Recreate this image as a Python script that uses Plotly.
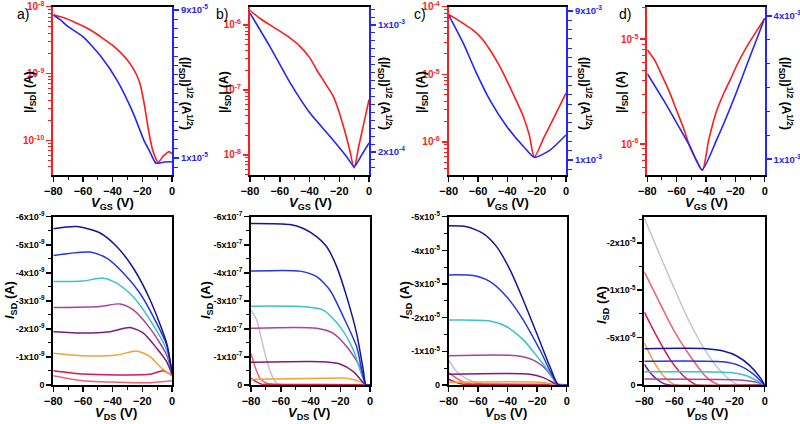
import plotly.graph_objects as go

# ---------------- data ----------------
# top row: transfer curves (red = |I_SD| log scale, blue = sqrt(|I_SD|) linear scale)
TA_V_RED = [-80, -75, -70, -65, -60, -55, -50, -45, -40, -35, -30, -26, -22, -19, -17, -15, -13, -11,
            -9.5, -8, -6, -4, -2, 0]
TA_I_RED = [7.59e-9, 7.08e-9, 6.46e-9, 5.75e-9, 5.13e-9, 4.47e-9, 3.80e-9, 3.16e-9, 2.63e-9, 2.09e-9,
            1.58e-9, 1.17e-9, 7.59e-10, 3.80e-10, 2.04e-10, 1.12e-10, 7.08e-11, 5.37e-11, 4.68e-11,
            5.01e-11, 5.75e-11, 6.31e-11, 6.76e-11, 6.31e-11]
TA_V_BLUE = [-80, -75, -70, -60, -48, -37, -26, -19, -15, -11, -9, -5, -2, 0]
TA_S_BLUE = [8.73e-5, 8.45e-5, 8.1e-5, 7.56e-5, 6.5e-5, 5.2e-5, 3.4e-5, 1.97e-5, 1.35e-5,
             0.73e-5, 0.72e-5, 0.78e-5, 0.8e-5, 0.78e-5]

TB_V_RED = [-80, -72, -64.5, -55, -46.4, -40, -35.2, -30, -24, -20, -16, -13, -10, -7, -4, 0]
TB_I_RED = [1.66e-6, 1.20e-6, 9.33e-7, 6.76e-7, 4.68e-7, 3.16e-7, 2.04e-7, 1.32e-7, 7.94e-8, 4.47e-8,
            2.19e-8, 1.20e-8, 6.31e-9, 1.32e-8, 2.69e-8, 7.08e-8]
TB_V_BLUE = [-80, -66.6, -53, -39.7, -26, -15, -10, -5, 0]
TB_S_BLUE = [1.074e-3, 8.64e-4, 6.35e-4, 4.45e-4, 2.96e-4, 1.7e-4, 1.08e-4, 1.8e-4, 2.57e-4]

TC_V_RED = [-80, -75, -70, -63.2, -57, -51.8, -46, -40.4, -35, -29, -25, -21.6, -15, -8, 0]
TC_I_RED = [7.59e-5, 6.61e-5, 5.62e-5, 4.47e-5, 3.31e-5, 2.29e-5, 1.41e-5, 8.13e-6, 4.57e-6, 2.34e-6,
            1.26e-6, 6.03e-7, 1.17e-6, 2.34e-6, 5.25e-6]
TC_V_BLUE = [-80, -70, -61, -51.8, -40.4, -29, -21.6, -10.9, 0]
TC_S_BLUE = [8.78e-3, 7.26e-3, 5.65e-3, 4.2e-3, 2.8e-3, 1.72e-3, 1.14e-3, 1.53e-3, 2.34e-3]

TD_V_RED = [-80, -75, -70.2, -65, -60, -55, -50.9, -46, -42.5, -38, -32.7, -28, -23.6, -18, -12.2, -6, 0]
TD_I_RED = [7.94e-6, 6.31e-6, 4.57e-6, 3.16e-6, 2.09e-6, 1.38e-6, 9.33e-7, 6.76e-7, 5.62e-7, 1.12e-6,
            2.09e-6, 3.02e-6, 4.07e-6, 6.03e-6, 8.51e-6, 1.17e-5, 1.58e-5]
TD_V_BLUE = [-80, -69, -60, -50.9, -42.7, -32.7, -21.3, -10, 0]
TD_S_BLUE = [2.79e-3, 2.24e-3, 1.76e-3, 1.27e-3, 0.78e-3, 1.41e-3, 2.24e-3, 3.15e-3, 3.95e-3]

# bottom row: output curves (I_SD in units of the panel scale)
OA_SCALE = 1e-9
OA_V = [[-80, -64.3, -48.5, -37.3, -26.1, -14.8, -3.6, 0],
        [-80, -55.3, -44.0, -32.8, -21.6, -10.3, -3.6, 0],
        [-80, -59.8, -46.3, -37.3, -26.1, -14.8, -3.6, 0],
        [-80, -48.5, -35.1, -26.1, -14.8, -3.6, 0],
        [-80, -59.8, -41.8, -28.3, -19.3, -10.3, -3.6, 0],
        [-80, -59.8, -37.3, -23.8, -14.8, -8.1, 0],
        [-80, -59.8, -37.3, -14.8, -5.8, 0],
        [-80, -59.8, -37.3, -14.8, 0]]
OA_I = [[-5.57, -5.65, -5.42, -4.94, -4.17, -3.04, -1.49, -0.42],
        [-4.62, -4.74, -4.52, -3.99, -3.27, -2.2, -1.43, -0.42],
        [-3.69, -3.71, -3.81, -3.63, -3.15, -2.32, -1.25, -0.42],
        [-2.76, -2.8, -2.89, -2.68, -2.02, -1.07, -0.38],
        [-1.9, -1.85, -1.9, -2.05, -1.85, -1.31, -0.83, -0.36],
        [-1.13, -1.04, -1.07, -1.21, -1.01, -0.65, -0.33],
        [-0.51, -0.39, -0.36, -0.38, -0.51, -0.33],
        [-0.33, -0.15, -0.1, -0.08, -0.15]]

OB_SCALE = 1e-7
OB_V = [[-80, -53.8, -44.8, -35.9, -29.1, -22.4, -15.7, -9.0, -4.5, -2.7, 0],
        [-80, -47.1, -35.9, -26.9, -17.9, -9.0, -2.7, 0],
        [-80, -44.8, -31.4, -20.2, -11.2, -2.7, 0],
        [-80, -35.9, -24.7, -15.7, -6.7, -2.7, 0],
        [-80, -31.4, -20.2, -11.2, -2.7, 0],
        [-80, -31.4, -15.7, -6.7, -2.7, 0],
        [-80, -76, -72.8, -60, -2.7, 0],
        [-80, -77.3, -74, -69.5, -60, 0],
        [-80, -76.2, -72.8, -69.5, -66.1, -62.7, -55, 0]]
OB_I = [[-5.76, -5.72, -5.58, -5.29, -4.93, -4.22, -3.15, -1.84, -0.53, 0, 0],
        [-4.06, -4.06, -3.86, -3.38, -2.43, -1.37, 0, 0],
        [-2.81, -2.79, -2.67, -2.08, -1.25, 0, 0],
        [-2.02, -2.02, -1.84, -1.37, -0.65, 0, 0],
        [-0.81, -0.83, -0.75, -0.48, 0, 0],
        [-0.2, -0.24, -0.24, -0.12, 0, 0],
        [-0.24, -0.1, -0.03, -0.02, -0.01, 0],
        [-1.13, -0.65, -0.24, -0.06, 0, 0],
        [-2.67, -2.32, -1.6, -0.89, -0.36, -0.06, 0, 0]]

OC_SCALE = 1e-5
OC_V = [[-80, -67.8, -56.5, -47.5, -38.4, -29.4, -20.3, -11.3, -5.6, 0],
        [-80, -63.3, -52.0, -40.7, -29.4, -18.1, -5.6, 0],
        [-80, -52.0, -40.7, -29.4, -18.1, -11.3, -5.6, 0],
        [-80, -33.9, -22.6, -13.6, -5.6, 0],
        [-80, -24.9, -15.8, -5.6, 0],
        [-80, -18.1, -5.6, 0],
        [-80, -74.6, -70, -60, 0],
        [-80, -74.6, -67.8, -63, -5.6, 0],
        [-80, -74.6, -67.8, -61, -56.5, 0]]
OC_I = [[-4.73, -4.70, -4.5, -4.11, -3.42, -2.52, -1.53, -0.54, 0, 0],
        [-3.27, -3.25, -3.07, -2.62, -1.93, -1.04, 0, 0],
        [-1.93, -1.90, -1.73, -1.34, -0.74, -0.35, 0, 0],
        [-0.87, -0.87, -0.74, -0.45, 0, 0],
        [-0.32, -0.32, -0.22, 0, 0],
        [-0.08, -0.08, 0, 0],
        [-0.17, -0.07, -0.02, -0.02, 0],
        [-0.37, -0.2, -0.05, -0.03, -0.02, 0],
        [-0.74, -0.40, -0.18, -0.07, 0, 0]]

OD_SCALE = 1e-6
OD_V = [[-80, -38.6, -27.5, -18.6, -9.7, -3.1, 0],
        [-80, -27.5, -16.4, -7.5, 0],
        [-80, -23.0, -12.0, -5.3, 0],
        [-80, -16.4, -5.3, 0],
        [-80, -76.2, -71.8, -67.4, -62.9, 0],
        [-80, -74.0, -67.4, -60.7, -58.5, 0],
        [-80, -71.8, -62.9, -54.1, -47.4, -45.2, 0],
        [-80, -71.8, -60.7, -49.6, -38.6, -31.9, -29.7, 0],
        [-80, -71.8, -60.7, -49.6, -38.6, -27.5, -20.8, -16.4, 0]]
OD_I = [[-3.83, -3.83, -3.58, -3.06, -2.02, -0.8, 0],
        [-2.51, -2.44, -2.02, -1.15, 0],
        [-1.39, -1.32, -0.97, -0.45, 0],
        [-0.63, -0.52, -0.28, 0],
        [-2.19, -1.32, -0.63, -0.17, 0, 0],
        [-4.45, -2.54, -0.97, -0.1, 0, 0],
        [-7.69, -5.15, -2.71, -0.97, -0.17, 0, 0],
        [-11.93, -9.33, -5.85, -3.06, -0.8, -0.1, 0, 0],
        [-17.6, -14.5, -10.4, -6.54, -3.41, -1.15, -0.28, 0, 0]]

# tick labels
XT_VALS = [-80, -60, -40, -20, 0]
OA_TICKS = [0, -1e-9, -2e-9, -3e-9, -4e-9, -5e-9, -6e-9]
OA_TICKTEXT = ["0", "-1x10<sup>-9</sup>", "-2x10<sup>-9</sup>", "-3x10<sup>-9</sup>",
               "-4x10<sup>-9</sup>", "-5x10<sup>-9</sup>", "-6x10<sup>-9</sup>"]
OB_TICKS = [0, -1e-7, -2e-7, -3e-7, -4e-7, -5e-7, -6e-7]
OB_TICKTEXT = ["0", "-1x10<sup>-7</sup>", "-2x10<sup>-7</sup>", "-3x10<sup>-7</sup>",
               "-4x10<sup>-7</sup>", "-5x10<sup>-7</sup>", "-6x10<sup>-7</sup>"]
OC_TICKS = [0, -1e-5, -2e-5, -3e-5, -4e-5, -5e-5]
OC_TICKTEXT = ["0", "-1x10<sup>-5</sup>", "-2x10<sup>-5</sup>", "-3x10<sup>-5</sup>",
               "-4x10<sup>-5</sup>", "-5x10<sup>-5</sup>"]
OD_TICKS = [0, -5e-6, -1e-5, -1.5e-5]
OD_TICKTEXT = ["0", "-5x10<sup>-6</sup>", "-1x10<sup>-5</sup>", "-2x10<sup>-5</sup>"]

TA_RTICKS = [1e-5, 9e-5]
TA_RTEXT = ["1x10<sup>-5</sup>", "9x10<sup>-5</sup>"]
TB_RTICKS = [2e-4, 1e-3]
TB_RTEXT = ["2x10<sup>-4</sup>", "1x10<sup>-3</sup>"]
TC_RTICKS = [1e-3, 9e-3]
TC_RTEXT = ["1x10<sup>-3</sup>", "9x10<sup>-3</sup>"]
TD_RTICKS = [1e-3, 4e-3]
TD_RTEXT = ["1x10<sup>-3</sup>", "4x10<sup>-3</sup>"]

# ---------------- styling ----------------
W, H = 800, 424
FAM = "Liberation Sans, Arial, sans-serif"
RED = "#ff1c1c"
BLUE = "#2424ff"
OUT_COLORS = ["#14149e", "#2436e6", "#38c2cc", "#a8449f", "#7d1c7d",
              "#f7a035", "#d8184f", "#f4606f", "#c4c4cc"]


def fx(p):
    return p / W


def fy(p):
    return 1 - p / H


TOP_BOX = [(53.3, 172.0), (250.0, 369.0), (448.7, 566.0), (647.3, 764.7)]
TOP_Y = (6.7, 175.0)
BOT_BOX = [(53.3, 172.0), (251.0, 370.0), (448.7, 566.7), (644.3, 764.7)]
BOT_Y = (216.7, 385.0)

fig = go.Figure()
layout = {}


def xcfg(box, anchor):
    return dict(domain=[fx(box[0]), fx(box[1])], anchor=anchor, range=[-80, 0], automargin=False,
                tickmode="array", tickvals=XT_VALS, ticks="outside", ticklen=5,
                tickwidth=1.5, tickcolor="black", showline=True, linecolor="black",
                linewidth=2, mirror=True, showgrid=False, zeroline=False,
                tickfont=dict(family=FAM, size=11, color="black", weight="bold"),
                minor=dict(tickmode="array", tickvals=[-70, -50, -30, -10], ticks="outside",
                           ticklen=3, tickwidth=1, tickcolor="black"))


def logminor(lo, hi):
    vals = []
    for e in range(lo, hi + 1):
        for k in range(2, 10):
            vals.append(k * 10.0 ** e)
    return vals


def steps(lo, hi, st, skip):
    out = []
    n = int(round((hi - lo) / st))
    for j in range(n + 1):
        v = lo + j * st
        if all(abs(v - s) > st * 0.1 for s in skip):
            out.append(v)
    return out


top_specs = [
    (TA_V_RED, TA_I_RED, TA_V_BLUE, TA_S_BLUE, [-10.52, -8.0], [-10, -9, -8],
     [0.08e-5, 9.18e-5], TA_RTICKS, TA_RTEXT, steps(0.5e-5, 9e-5, 0.5e-5, TA_RTICKS)),
    (TB_V_RED, TB_I_RED, TB_V_BLUE, TB_S_BLUE, [-8.31, -5.72], [-8, -7, -6],
     [0.55e-4, 1.115e-3], TB_RTICKS, TB_RTEXT, steps(1e-4, 1.1e-3, 0.5e-4, TB_RTICKS)),
    (TC_V_RED, TC_I_RED, TC_V_BLUE, TC_S_BLUE, [-6.49, -4.0], [-6, -5, -4],
     [0.19e-3, 9.23e-3], TC_RTICKS, TC_RTEXT, steps(0.5e-3, 9e-3, 0.5e-3, TC_RTICKS)),
    (TD_V_RED, TD_I_RED, TD_V_BLUE, TD_S_BLUE, [-6.295, -4.69], [-6, -5],
     [0.67e-3, 4.19e-3], TD_RTICKS, TD_RTEXT, steps(1e-3, 4e-3, 0.5e-3, TD_RTICKS)),
]

for i, (vr, ir, vb, sb, lrng, lt, rrng, rt, rtt, rminor) in enumerate(top_specs):
    xn = i + 1
    yl = 2 * i + 1
    yr = 2 * i + 2
    xname = "x" if xn == 1 else f"x{xn}"
    ylname = "y" if yl == 1 else f"y{yl}"
    yrname = f"y{yr}"
    box = TOP_BOX[i]
    layout["xaxis" if xn == 1 else f"xaxis{xn}"] = xcfg(box, ylname)
    layout["yaxis" if yl == 1 else f"yaxis{yl}"] = dict(
        domain=[fy(TOP_Y[1]), fy(TOP_Y[0])], anchor=xname, type="log", range=lrng, automargin=False,
        tickmode="array", tickvals=[10.0 ** e for e in lt],
        ticktext=[f"10<sup>{e}</sup>" for e in lt], ticks="outside", ticklen=5, tickwidth=1.5,
        tickcolor=RED, showline=True, linecolor=RED, linewidth=2, showgrid=False, zeroline=False,
        tickfont=dict(family=FAM, size=10, color=RED, weight="bold"),
        minor=dict(tickmode="array", tickvals=logminor(int(lrng[0]) - 1, int(lrng[1]) + 1),
                   ticks="outside", ticklen=3, tickwidth=1, tickcolor=RED))
    layout[f"yaxis{yr}"] = dict(
        domain=[fy(TOP_Y[1]), fy(TOP_Y[0])], anchor=xname, overlaying=ylname, side="right",
        range=rrng, automargin=False, tickmode="array", tickvals=rt, ticktext=rtt,
        ticks="outside", ticklen=5, tickwidth=1.5, tickcolor=BLUE, showline=True,
        linecolor=BLUE, linewidth=2, showgrid=False, zeroline=False,
        tickfont=dict(family=FAM, size=9.5, color=BLUE, weight="bold"),
        minor=dict(tickmode="array", tickvals=rminor, ticks="outside", ticklen=3.5, tickwidth=1,
                   tickcolor=BLUE))
    fig.add_trace(go.Scatter(x=vr, y=ir, mode="lines",
                             line=dict(color=RED, width=1.6, shape="spline", smoothing=0.8),
                             xaxis=xname, yaxis=ylname, showlegend=False))
    fig.add_trace(go.Scatter(x=vb, y=sb, mode="lines",
                             line=dict(color=BLUE, width=1.6, shape="spline", smoothing=0.6),
                             xaxis=xname, yaxis=yrname, showlegend=False))

bot_specs = [
    (OA_V, OA_I, OA_SCALE, [0, -6e-9], OA_TICKS, OA_TICKTEXT, [-(k + 0.5) * 1e-9 for k in range(6)]),
    (OB_V, OB_I, OB_SCALE, [0, -6e-7], OB_TICKS, OB_TICKTEXT, [-(k + 0.5) * 1e-7 for k in range(6)]),
    (OC_V, OC_I, OC_SCALE, [0, -5e-5], OC_TICKS, OC_TICKTEXT, [-(k + 0.5) * 1e-5 for k in range(5)]),
    (OD_V, OD_I, OD_SCALE, [0, -1.775e-5], OD_TICKS, OD_TICKTEXT, [-(k + 0.5) * 5e-6 for k in range(4)]),
]

for i, (vv, ii, sc, rng, tv, tt, mn) in enumerate(bot_specs):
    xn = 5 + i
    yn = 9 + i
    xname = f"x{xn}"
    yname = f"y{yn}"
    box = BOT_BOX[i]
    layout[f"xaxis{xn}"] = xcfg(box, yname)
    layout[f"yaxis{yn}"] = dict(
        domain=[fy(BOT_Y[1]), fy(BOT_Y[0])], anchor=xname, range=rng, automargin=False,
        tickmode="array", tickvals=tv, ticktext=tt, ticks="outside", ticklen=5, tickwidth=1.5,
        tickcolor="black", showline=True, linecolor="black", linewidth=2, mirror=True,
        showgrid=False, zeroline=False,
        tickfont=dict(family=FAM, size=9, color="black", weight="bold"),
        minor=dict(tickmode="array", tickvals=mn, ticks="outside", ticklen=3, tickwidth=1,
                   tickcolor="black"))
    for k in list(range(len(vv)))[::-1]:
        fig.add_trace(go.Scatter(x=vv[k], y=[v * sc for v in ii[k]], mode="lines",
                                 line=dict(color=OUT_COLORS[k], width=1.5, shape="spline", smoothing=0.7),
                                 xaxis=xname, yaxis=yname, showlegend=False))

# ---------------- annotations (titles, panel labels) ----------------
ann = []
TF = dict(family=FAM, size=12, color="black", weight="bold")
TF13 = dict(family=FAM, size=13, color="black", weight="bold")


def add_text(text, x, y, angle=0, font=TF):
    ann.append(dict(text=text, x=fx(x), y=fy(y), xref="paper", yref="paper", showarrow=False,
                    textangle=angle, font=font, xanchor="center", yanchor="middle"))


Y_TITLE = "|<i>I</i><sub>SD</sub>| (A)"
R_TITLE = "(|<i>I</i><sub>SD</sub>|)<sup>1/2</sup> (A<sup>1/2</sup>)"
for lx, rx in [(30, 186), (225, 385), (422, 585), (622, 786)]:
    add_text(Y_TITLE, lx, 92, -90)
    add_text(R_TITLE, rx, 93, 90)
for cx in [113, 310, 507, 706]:
    add_text("<i>V</i><sub>GS</sub> (V)", cx, 203, 0, TF13)
for cx in [116, 309, 506, 707]:
    add_text("<i>V</i><sub>DS</sub> (V)", cx, 413, 0, TF13)
for (cx, cy) in [(10, 300), (206, 300), (405, 300), (602, 305)]:
    add_text("<i>I</i><sub>SD</sub> (A)", cx, cy, -90, TF13)
PL = dict(family=FAM, size=14, color="black")
for lab, cx in [("a)", 23), ("b)", 222), ("c)", 420), ("d)", 625)]:
    add_text(lab, cx, 14, 0, PL)

layout["annotations"] = ann
fig.update_layout(**layout)
fig.update_layout(width=W, height=H, margin=dict(l=0, r=0, t=0, b=0, autoexpand=False),
                  paper_bgcolor="white", plot_bgcolor="white",
                  font=dict(family=FAM, color="black"), showlegend=False)

fig.write_html("out.html", config={"displayModeBar": False, "staticPlot": True},
               post_script="document.body.style.margin='0';document.body.style.overflow='hidden';")
